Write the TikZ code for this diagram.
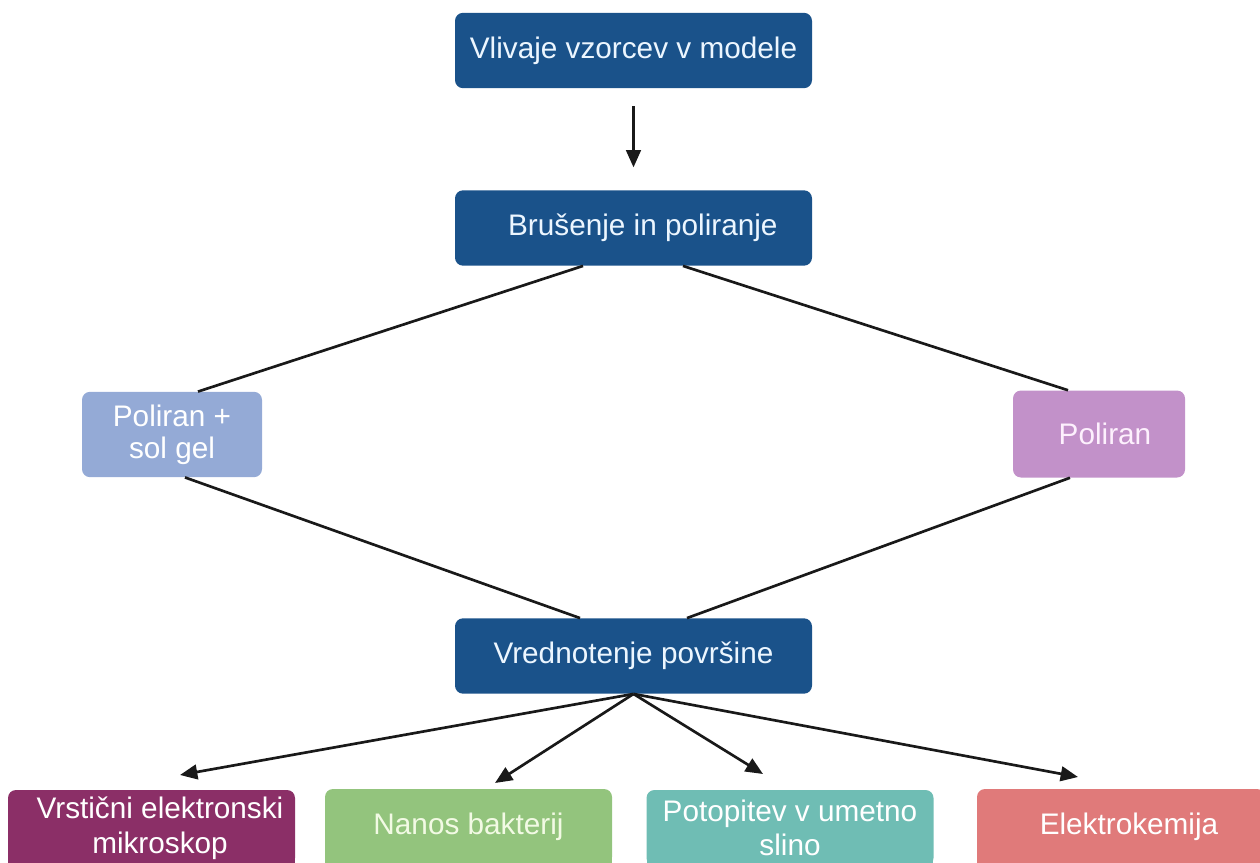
\documentclass[tikz,border=0pt]{standalone}
\usepackage{fontspec}
\setmainfont{Liberation Sans}
\usetikzlibrary{arrows.meta}
\definecolor{dblue}{RGB}{26,82,138}
\definecolor{textblue}{RGB}{236,246,255}
\definecolor{lblue}{RGB}{148,170,214}
\definecolor{lilac}{RGB}{194,145,201}
\definecolor{maroon}{RGB}{139,47,103}
\definecolor{sgreen}{RGB}{147,196,125}
\definecolor{greentext}{RGB}{242,250,228}
\definecolor{teal}{RGB}{111,189,180}
\definecolor{salmon}{RGB}{224,122,122}
\definecolor{ink}{RGB}{25,25,25}
\begin{document}
\begin{tikzpicture}[x=0.75pt,y=-0.75pt,
  every node/.style={font=\fontsize{22.3}{26}\selectfont},
  box/.style={rounded corners=6pt, inner sep=0pt, align=center, text=white},
  mainbox/.style={box, fill=dblue, text=textblue, minimum width=267.75pt, minimum height=56.5pt},
  lowbox/.style={box, minimum width=215.25pt, minimum height=57pt},
  link/.style={line width=2pt, draw=ink},
  arr/.style={link, -{Triangle[length=13pt,width=11pt]}}]
\useasboundingbox (0,0) rectangle (1260,863);
\clip (0,0) rectangle (1260,863);

% lower extensions of the bottom boxes (cut by the picture edge)
\fill[maroon] (8,830) rectangle (295,875);
\fill[sgreen] (325,830) rectangle (612,875);
\fill[teal] (647,830) rectangle (933,875);
\fill[salmon] (977,830) rectangle (1265,875);

\node[mainbox] (cast) at (633.5,50.5) {Vlivaje vzorcev v modele};
\node[mainbox] (grind) at (633.5,228) {\hspace*{14pt}Brušenje in poliranje};
\node[box, fill=lblue, minimum width=135pt, minimum height=64pt,
      font=\fontsize{22.3}{24}\selectfont] (solgel) at (172,434.5) {Poliran +\\sol gel};
\node[box, fill=lilac, text={rgb,255:red,253;green,240;blue,253}, minimum width=129pt, minimum height=65.25pt] (pol) at (1099,434) {\hspace*{9pt}Poliran};
\node[mainbox] (eval) at (633.5,656) {Vrednotenje površine};

\node[lowbox, fill=maroon] (sem) at (151.5,828) {\hspace*{12.75pt}Vrstični elektronski\\\hspace*{12.75pt}mikroskop};
\node[lowbox, fill=sgreen, text=greentext] (bact) at (468.5,827) {Nanos bakterij};
\node[lowbox, fill=teal] (saliva) at (790,828) {Potopitev v umetno\\slino};
\node[lowbox, fill=salmon, minimum width=216pt] (echem) at (1121,827) {\hspace*{12pt}Elektrokemija};

\draw[arr, shorten <=13.5pt, shorten >=17pt] (cast) -- (grind);

\draw[link] ([shift={(-50.5,0)}]grind.south) -- ([shift={(26,0)}]solgel.north);
\draw[link] ([shift={(49.5,0)}]grind.south) -- ([shift={(-31,0)}]pol.north);
\draw[link] ([shift={(13,0)}]solgel.south) -- ([shift={(-53.5,0)}]eval.north);
\draw[link] ([shift={(-29,0)}]pol.south) -- ([shift={(53.5,0)}]eval.north);

\coordinate (t1) at (180,775);
\coordinate (t2) at (495,783);
\coordinate (t3) at (763,774);
\coordinate (t4) at (1078,777);
\draw[arr] (eval.south) -- (t1);
\draw[arr] (eval.south) -- (t2);
\draw[arr] (eval.south) -- (t3);
\draw[arr] (eval.south) -- (t4);
\end{tikzpicture}
\end{document}
